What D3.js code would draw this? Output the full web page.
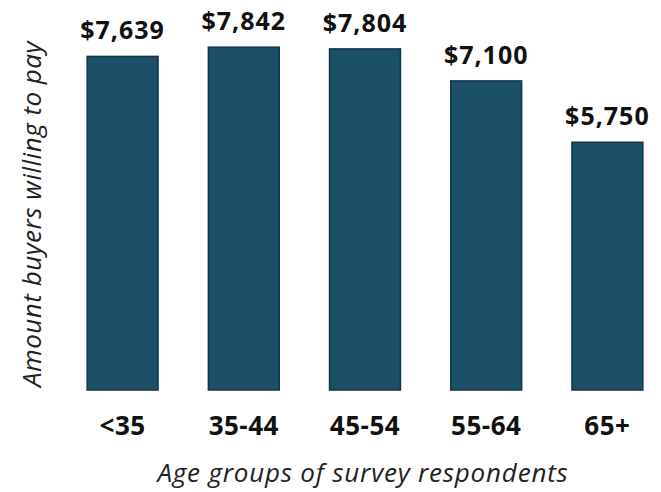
<!DOCTYPE html>
<html><head><meta charset="utf-8">
<script src="https://cdn.jsdelivr.net/npm/d3@7"></script>
<style>html,body{margin:0;padding:0;background:#fff;}</style>
</head><body>
<script>
const categories = ["<35", "35-44", "45-54", "55-64", "65+"];
const values = [7639, 7842, 7804, 7100, 5750];
const valueLabels = ["$7,639", "$7,842", "$7,804", "$7,100", "$5,750"];
const xTitle = "Age groups of survey respondents";
const yTitle = "Amount buyers willing to pay";

const W = 661, H = 492;
const svg = d3.select("body").append("svg").attr("width", W).attr("height", H);

const x = d3.scaleBand().domain(categories).range([62, 668]).paddingInner(0.415).paddingOuter(0.2075);
const y = d3.scaleLinear().domain([300, 8000]).range([390, 40]);

const font = "'Open Sans', sans-serif";

svg.selectAll("rect.bar").data(values).join("rect")
  .attr("class", "bar")
  .attr("x", (d, i) => x(categories[i]))
  .attr("width", x.bandwidth())
  .attr("y", d => y(d))
  .attr("height", d => y(300) - y(d))
  .attr("fill", "#1b5068")
  .attr("stroke", "#11354a")
  .attr("stroke-width", 1.5);

svg.selectAll("text.val").data(values).join("text")
  .attr("class", "val")
  .attr("x", (d, i) => x(categories[i]) + x.bandwidth() / 2)
  .attr("y", d => y(d) - 17)
  .attr("text-anchor", "middle")
  .attr("font-family", font).attr("font-weight", 700).attr("font-size", 25)
  .attr("letter-spacing", 1)
  .attr("fill", "#111")
  .text((d, i) => valueLabels[i]);

const xAxis = svg.append("g").attr("transform", "translate(0,390)")
  .call(d3.axisBottom(x).tickSize(0).tickPadding(27));
xAxis.select(".domain").remove();
xAxis.selectAll("text").attr("font-family", font).attr("font-weight", 700)
  .attr("font-size", 26).attr("letter-spacing", 0.5).attr("fill", "#111");

svg.append("text").attr("x", 363).attr("y", 482).attr("text-anchor", "middle")
  .attr("font-family", font).attr("font-style", "italic").attr("font-size", 26)
  .attr("letter-spacing", 0.8)
  .attr("fill", "#222").text(xTitle);

svg.append("text").attr("transform", "translate(41,214) rotate(-90)")
  .attr("text-anchor", "middle")
  .attr("font-family", font).attr("font-style", "italic").attr("font-size", 26)
  .attr("letter-spacing", 0.5)
  .attr("fill", "#222").text(yTitle);
</script>
</body></html>
